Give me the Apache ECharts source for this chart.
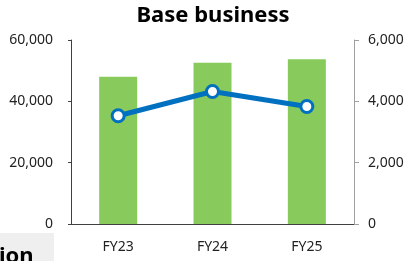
<!DOCTYPE html>
<html>
<head>
<meta charset="utf-8">
<script src="https://cdn.jsdelivr.net/npm/echarts@6/dist/echarts.min.js"></script>
<style>
  html, body { margin: 0; padding: 0; background: #fff; }
  #main { width: 410px; height: 261px; }
</style>
</head>
<body>
<div id="main"></div>
<script>
// data
var categories = ['FY23', 'FY24', 'FY25']
var barValues = [48000, 52600, 53700]   // left axis
var lineValues = [3530, 4320, 3830]     // right axis
var leftTicks = [0, 60000, 20000]       // min, max, interval
var rightTicks = [0, 6000, 2000]

var fmt = function (v) { return v.toLocaleString('en-US') }
var font = '"Noto Sans", "Open Sans", sans-serif'

var myChart = echarts.init(document.getElementById('main'))

myChart.setOption({
  animation: false,
  title: {
    text: 'Base business',
    left: 208,
    textAlign: 'center',
    top: 0,
    textStyle: { fontFamily: font, fontSize: 22, fontWeight: 'bold', color: '#000' }
  },
  grid: { left: 71, right: 56, top: 40, bottom: 37 },
  xAxis: {
    type: 'category',
    data: categories,
    axisLine: { lineStyle: { color: '#404040', width: 1 } },
    axisTick: { show: false },
    axisLabel: { color: '#222', fontFamily: font, fontSize: 14, margin: 16 }
  },
  yAxis: [{
    type: 'value',
    min: leftTicks[0], max: leftTicks[1], interval: leftTicks[2],
    axisLine: { show: true, lineStyle: { color: '#404040' } },
    axisTick: { show: true, length: 3, lineStyle: { color: '#404040' } },
    splitLine: { show: false },
    axisLabel: { color: '#222', fontFamily: font, fontSize: 14, margin: 18, formatter: fmt }
  }, {
    type: 'value',
    min: rightTicks[0], max: rightTicks[1], interval: rightTicks[2],
    axisLine: { show: true, lineStyle: { color: '#a0a0a0' } },
    axisTick: { show: true, length: 5, lineStyle: { color: '#a0a0a0' } },
    splitLine: { show: false },
    axisLabel: { color: '#222', fontFamily: font, fontSize: 14, margin: 14, formatter: fmt }
  }],
  series: [{
    type: 'bar',
    data: barValues,
    barWidth: 38,
    itemStyle: { color: '#88CA5C' }
  }, {
    type: 'line',
    yAxisIndex: 1,
    data: lineValues,
    symbol: 'circle',
    symbolSize: 12,
    lineStyle: { color: '#0070C0', width: 5 },
    itemStyle: { color: '#fff', borderColor: '#0070C0', borderWidth: 3 }
  }],
  graphic: [{
    type: 'rect',
    shape: { x: 0, y: 233, width: 54, height: 28 },
    style: { fill: '#efefef' }
  }, {
    type: 'text',
    x: -1, y: 268,
    style: { text: 'ion', fontFamily: font, fontSize: 22, fontWeight: 'bold', fill: '#000', verticalAlign: 'bottom' }
  }]
})
</script>
</body>
</html>
